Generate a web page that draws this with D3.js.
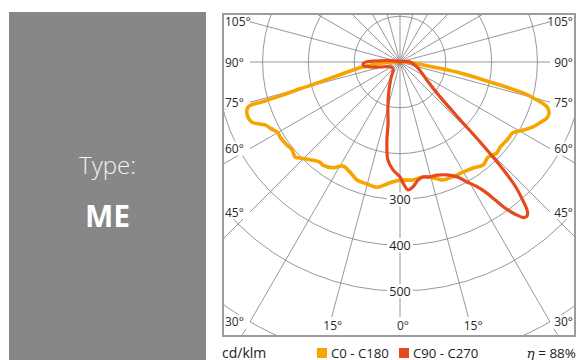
<!DOCTYPE html>
<html>
<head>
<meta charset="utf-8">
<script src="https://cdn.jsdelivr.net/npm/d3@7"></script>
<style>
  html, body { margin: 0; padding: 0; background: #fff; }
  svg { display: block; font-family: "Open Sans", "DejaVu Sans", sans-serif; }
</style>
</head>
<body>
<svg id="chart" width="577" height="360"></svg>
<script>
// ---- content ----
const typeLabel = "Type:";
const typeCode = "ME";
const unitLabel = "cd/klm";
const efficiencyValue = "88%";
const seriesNames = ["C0 - C180", "C90 - C270"];
const seriesColors = ["#f6a400", "#e6491e"];

// polar grid: rings in cd/klm, spokes every 15 degrees
const ringValues = [100, 200, 300, 400, 500];
const ringLabelValues = [300, 400, 500];
const radialMax = 655;
const spokeAngles = d3.range(0, 360, 15);
const labeledAngles = [-105, -90, -75, -60, -45, -30, -15, 0, 15, 30, 45, 60, 75, 90, 105];

// luminous intensity curves: gamma in degrees (negative = left half-plane), value in cd/klm
const c0c180Angles = [-95, -90, -86, -82.5, -78, -75.6, -75, -74.2, -73.9, -73.5, -70.9, -67.9, -65, -63,
  -59.8, -58, -53.7, -50.8, -47.9, -46.2, -42.6, -38.7, -36.8, -32.3, -28.7, -24.4, -20, -15.1, -10.4,
  -6.1, -3.3, 0, 6.3, 11.3, 15.9, 20, 24.7, 29.8, 34.6, 38.9, 42.8, 46.8, 49.6, 53.9, 57.9, 61, 64, 66.5,
  69.1, 71.1, 73, 74.5, 75.9, 77.5, 80, 82.6, 86, 90, 95];
const c0c180Values = [0, 15, 45, 83, 134, 191, 226, 268, 307, 346, 353, 349, 325, 318,
  308, 309, 306, 304, 309, 303, 290, 280, 281, 273, 259, 264, 274, 276, 278,
  268, 262, 258, 259, 256, 263, 274, 276, 277, 281, 289, 283, 290, 287, 289, 291, 307, 323, 333,
  343, 344, 336, 310, 277, 201, 126, 51, 25, 10, 0];

const c90c270Angles = [-110, -105, -98, -92.3, -90, -87, -83.7, -80.5, -76, -58, -41, -29.4, -21.4, -15,
  -10.8, -9.5, -7, -3.7, 0, 1.4, 3.6, 5.9, 8.7, 11.3, 14.6, 18.1, 22.6, 26.4, 29.2, 31.5, 33.3, 34.7,
  35.9, 37.2, 38.5, 39.5, 40.5, 41.6, 42.8, 43.7, 44.3, 45, 46.2, 49, 56, 63, 73.6, 90, 100, 110];
const c90c270Values = [0, 5, 22, 55, 74, 81, 79, 66, 45, 21, 23, 40, 66, 102,
  140, 173, 216, 236, 251, 264, 280, 274, 261, 256, 259, 260, 267, 280, 300, 318, 340, 368,
  396, 418, 434, 436, 428, 404, 372, 332, 296, 250, 182, 116, 71, 54, 39, 22, 8, 0];

// ---- layout ----
const svg = d3.select("#chart");
const frame = { x0: 223, y0: 14, x1: 575, y1: 336 };
const inner = { x0: 250, x1: 550, y1: 324 };
const cx = 400, cy = 62;
const rScale = d3.scaleLinear().domain([0, radialMax]).range([0, 300]);
const rad = d => d * Math.PI / 180;
const polar = (g, v) => [cx + rScale(v) * Math.sin(rad(g)), cy + rScale(v) * Math.cos(rad(g))];

// left info panel
svg.append("rect").attr("x", 9).attr("y", 12).attr("width", 197).attr("height", 348).attr("fill", "#878787");
svg.append("text").attr("x", 107.5).attr("y", 174).attr("text-anchor", "middle")
  .attr("font-size", 24).attr("font-weight", 300).attr("fill", "#f2f2f2").text(typeLabel);
svg.append("text").attr("x", 107.5).attr("y", 227).attr("text-anchor", "middle")
  .attr("font-size", 30).attr("font-weight", 700).attr("fill", "#ffffff").text(typeCode);

// clip for the diagram area
svg.append("clipPath").attr("id", "plotClip").append("rect")
  .attr("x", frame.x0).attr("y", frame.y0)
  .attr("width", frame.x1 - frame.x0).attr("height", frame.y1 - frame.y0);

const plot = svg.append("g").attr("clip-path", "url(#plotClip)");
const grid = plot.append("g").attr("fill", "none").attr("stroke", "#7d7d7d").attr("stroke-width", 0.8);

// rings
grid.selectAll("circle.ring").data(ringValues.concat([radialMax])).join("circle")
  .attr("class", "ring").attr("cx", cx).attr("cy", cy).attr("r", d => rScale(d));

// spokes
grid.selectAll("line.spoke").data(spokeAngles).join("line")
  .attr("class", "spoke")
  .attr("x1", cx).attr("y1", cy)
  .attr("x2", d => polar(d, radialMax * 1.6)[0])
  .attr("y2", d => polar(d, radialMax * 1.6)[1]);

// angle labels, placed where each spoke meets the inner label band
const labels = plot.append("g").attr("font-size", 12).attr("fill", "#2a2a2a");
labeledAngles.forEach(a => {
  const s = Math.sin(rad(a)), c = Math.cos(rad(a));
  const tSide = s < 0 ? (inner.x0 - cx) / s : (s > 0 ? (inner.x1 - cx) / s : Infinity);
  const tBottom = c > 0 ? (inner.y1 - cy) / c : Infinity;
  const txt = Math.abs(a) + "°";
  if (tSide <= tBottom) {
    const y = cy + tSide * c;
    const left = s < 0;
    labels.append("rect")
      .attr("x", left ? frame.x0 : inner.x1).attr("y", y - 7)
      .attr("width", left ? inner.x0 - frame.x0 : frame.x1 - inner.x1).attr("height", 14)
      .attr("fill", "#fff");
    labels.append("text")
      .attr("x", left ? frame.x0 + 2 : frame.x1 - 2).attr("y", y + 4.5)
      .attr("text-anchor", left ? "start" : "end").text(txt);
  } else {
    const x = cx + tBottom * s;
    labels.append("rect").attr("x", x - 12).attr("y", inner.y1 - 7)
      .attr("width", 24).attr("height", frame.y1 - inner.y1 + 7).attr("fill", "#fff");
    labels.append("text").attr("x", x + 3).attr("y", inner.y1 + 5.5)
      .attr("text-anchor", "middle").text(txt);
  }
});

// ring value labels along the 0 degree spoke
const ringLbl = plot.append("g").attr("font-size", 12.5).attr("fill", "#222");
ringLabelValues.forEach(v => {
  const y = cy + rScale(v);
  ringLbl.append("rect").attr("x", cx - 13).attr("y", y - 7).attr("width", 26).attr("height", 14).attr("fill", "#fff");
  ringLbl.append("text").attr("x", cx).attr("y", y + 4.5).attr("text-anchor", "middle").text(v);
});

// intensity curves
const radial = d3.lineRadial()
  .angle(d => Math.PI - rad(d[0]))
  .radius(d => rScale(d[1]))
  .curve(d3.curveCatmullRom.alpha(0.5));
const curves = [
  d3.zip(c0c180Angles, c0c180Values),
  d3.zip(c90c270Angles, c90c270Values)
];
plot.append("g").attr("transform", `translate(${cx},${cy})`)
  .selectAll("path").data(curves).join("path")
  .attr("d", radial)
  .attr("fill", "none")
  .attr("stroke", (d, i) => seriesColors[i])
  .attr("stroke-width", (d, i) => i === 0 ? 3.6 : 3.2)
  .attr("stroke-linejoin", "round")
  .attr("stroke-linecap", "round");

// frame
svg.append("rect")
  .attr("x", frame.x0).attr("y", frame.y0)
  .attr("width", frame.x1 - frame.x0).attr("height", frame.y1 - frame.y0)
  .attr("fill", "none").attr("stroke", "#9c9c9c").attr("stroke-width", 2);

// legend
const legend = svg.append("g").attr("fill", "#222");
legend.append("text").attr("x", 222).attr("y", 357.5).attr("font-size", 14).text(unitLabel);
const legendX = [317, 399];
seriesNames.forEach((name, i) => {
  legend.append("rect").attr("x", legendX[i]).attr("y", 348).attr("width", 10).attr("height", 10)
    .attr("fill", seriesColors[i]);
  legend.append("text").attr("x", legendX[i] + 14).attr("y", 357.5).attr("font-size", 13.2).text(name);
});
const eta = legend.append("text").attr("x", 576).attr("y", 357.5).attr("text-anchor", "end").attr("font-size", 13.5);
eta.append("tspan").attr("font-style", "italic").attr("font-family", "DejaVu Serif, serif").text("η");
eta.append("tspan").text(" = " + efficiencyValue);
</script>
</body>
</html>
